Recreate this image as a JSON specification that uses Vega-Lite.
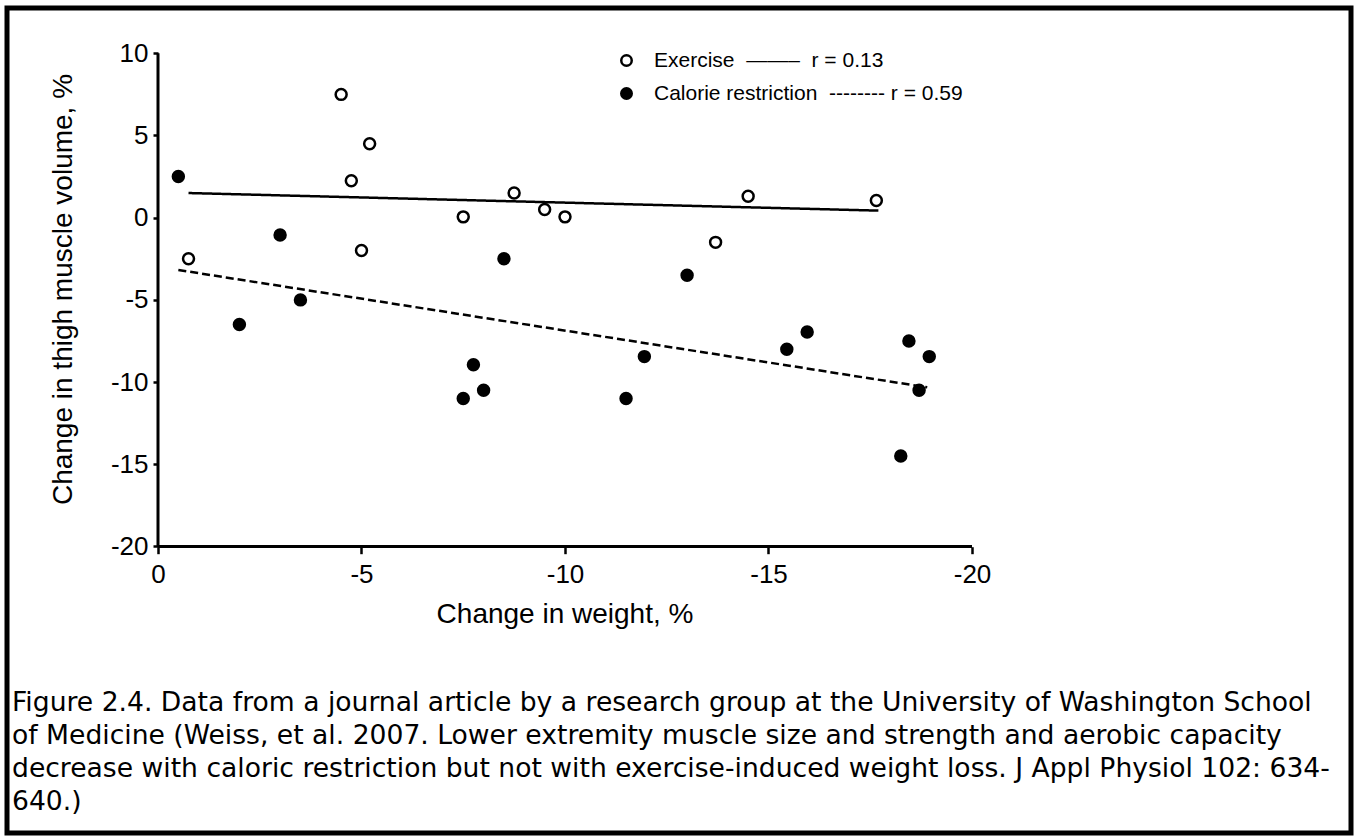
{
  "$schema": "https://vega.github.io/schema/vega-lite/v6.json",
  "width": 1344,
  "height": 825,
  "autosize": {"type": "none"},
  "padding": {"left": 7, "top": 8, "right": 3, "bottom": 3},
  "background": "white",
  "config": {
    "view": {"stroke": "black", "strokeWidth": 5},
    "axis": {"grid": false, "domain": false, "labelColor": "black", "tickColor": "black", "titleColor": "black", "labelFont": "Liberation Sans", "titleFont": "Liberation Sans", "titleFontWeight": "normal"}
  },
  "title": {
    "text": [
      "Figure 2.4. Data from a journal article by a research group at the University of Washington School",
      "of Medicine (Weiss, et al. 2007. Lower extremity muscle size and strength and aerobic capacity",
      "decrease with caloric restriction but not with exercise-induced weight loss. J Appl Physiol 102: 634-",
      "640.)"
    ],
    "orient": "bottom",
    "anchor": "start",
    "frame": "group",
    "offset": -122,
    "dx": 5,
    "baseline": "alphabetic",
    "font": "DejaVu Sans",
    "fontSize": 26.6,
    "fontWeight": "normal",
    "lineHeight": 33,
    "color": "black"
  },
  "layer": [
    {
      "data": {"values": [
        {"group": "Exercise", "weight": -4.5, "muscle": 7.5},
        {"group": "Exercise", "weight": -5.2, "muscle": 4.5},
        {"group": "Exercise", "weight": -4.75, "muscle": 2.25},
        {"group": "Exercise", "weight": -8.75, "muscle": 1.5},
        {"group": "Exercise", "weight": -7.5, "muscle": 0.05},
        {"group": "Exercise", "weight": -9.5, "muscle": 0.5},
        {"group": "Exercise", "weight": -10.0, "muscle": 0.05},
        {"group": "Exercise", "weight": -5.0, "muscle": -2.0},
        {"group": "Exercise", "weight": -0.75, "muscle": -2.5},
        {"group": "Exercise", "weight": -14.5, "muscle": 1.3},
        {"group": "Exercise", "weight": -17.65, "muscle": 1.05},
        {"group": "Exercise", "weight": -13.7, "muscle": -1.5},
        {"group": "Calorie restriction", "weight": -0.5, "muscle": 2.5},
        {"group": "Calorie restriction", "weight": -3.0, "muscle": -1.05},
        {"group": "Calorie restriction", "weight": -8.5, "muscle": -2.5},
        {"group": "Calorie restriction", "weight": -13.0, "muscle": -3.5},
        {"group": "Calorie restriction", "weight": -3.5, "muscle": -5.0},
        {"group": "Calorie restriction", "weight": -2.0, "muscle": -6.5},
        {"group": "Calorie restriction", "weight": -7.75, "muscle": -8.95},
        {"group": "Calorie restriction", "weight": -8.0, "muscle": -10.5},
        {"group": "Calorie restriction", "weight": -7.5, "muscle": -11.0},
        {"group": "Calorie restriction", "weight": -11.95, "muscle": -8.45},
        {"group": "Calorie restriction", "weight": -11.5, "muscle": -11.0},
        {"group": "Calorie restriction", "weight": -15.95, "muscle": -6.95},
        {"group": "Calorie restriction", "weight": -15.45, "muscle": -8.0},
        {"group": "Calorie restriction", "weight": -18.45, "muscle": -7.5},
        {"group": "Calorie restriction", "weight": -18.95, "muscle": -8.45},
        {"group": "Calorie restriction", "weight": -18.7, "muscle": -10.5},
        {"group": "Calorie restriction", "weight": -18.25, "muscle": -14.5}
      ]},
      "mark": {"type": "point", "shape": "circle", "filled": true, "stroke": "black", "strokeWidth": 2.5, "size": 120, "opacity": 1},
      "encoding": {
        "x": {
          "field": "weight",
          "type": "quantitative",
          "scale": {"domain": [3.71, -29.312], "nice": false, "zero": false},
          "axis": {
            "orient": "bottom",
            "offset": -286.3,
            "values": [0, -5, -10, -15, -20],
            "labelExpr": "'' + datum.value",
            "tickSize": 7,
            "tickWidth": 2.5,
            "labelFontSize": 26,
            "labelPadding": 8,
            "title": "Change in weight, %",
            "titleFontSize": 28,
            "titleX": 557.5,
            "titleY": 75.3,
            "titleBaseline": "alphabetic",
            "titleAlign": "center"
          }
        },
        "y": {
          "field": "muscle",
          "type": "quantitative",
          "scale": {"domain": [-37.427, 12.755], "nice": false, "zero": false},
          "axis": {
            "orient": "left",
            "offset": -151,
            "values": [-20, -15, -10, -5, 0, 5, 10],
            "labelExpr": "'' + datum.value",
            "tickSize": 5,
            "tickWidth": 2.5,
            "labelFontSize": 26,
            "labelPadding": 5,
            "title": "Change in thigh muscle volume, %",
            "titleFontSize": 28,
            "titleAngle": -90,
            "titleX": -86.5,
            "titleY": 281,
            "titleBaseline": "alphabetic",
            "titleAlign": "center"
          }
        },
        "fill": {
          "field": "group",
          "type": "nominal",
          "scale": {"domain": ["Exercise", "Calorie restriction"], "range": ["white", "black"]},
          "legend": {
            "orient": "none",
            "legendX": 609,
            "legendY": 42,
            "title": null,
            "padding": 0,
            "symbolType": "circle",
            "symbolSize": 110,
            "symbolStrokeColor": "black",
            "symbolStrokeWidth": 2.5,
            "labelFont": "Liberation Sans",
            "labelFontSize": 21,
            "labelColor": "black",
            "labelOffset": 17,
            "rowPadding": 11,
            "labelLimit": 600,
            "labelExpr": "datum.label == 'Exercise' ? 'Exercise\u00a0\u00a0\u2014\u2014\u2013\u00a0\u00a0r = 0.13' : 'Calorie restriction\u00a0\u00a0--------\u00a0r = 0.59'"
          }
        }
      }
    },
    {
      "data": {"values": [{}]},
      "mark": {"type": "rule", "color": "black", "strokeWidth": 3},
      "encoding": {
        "x": {"datum": 0},
        "x2": {"datum": -20},
        "y": {"datum": -20}
      }
    },
    {
      "data": {"values": [{}]},
      "mark": {"type": "rule", "color": "black", "strokeWidth": 3},
      "encoding": {
        "x": {"datum": 0},
        "y": {"datum": -20},
        "y2": {"datum": 10}
      }
    },
    {
      "data": {"values": [
        {"fit": "Exercise fit", "weight": -0.75, "muscle": 1.5},
        {"fit": "Exercise fit", "weight": -17.7, "muscle": 0.43},
        {"fit": "Calorie restriction fit", "weight": -0.5, "muscle": -3.18},
        {"fit": "Calorie restriction fit", "weight": -18.9, "muscle": -10.32}
      ]},
      "mark": {"type": "line", "color": "black", "strokeWidth": 2.5},
      "encoding": {
        "x": {"field": "weight", "type": "quantitative"},
        "y": {"field": "muscle", "type": "quantitative"},
        "detail": {"field": "fit"},
        "strokeDash": {
          "field": "fit",
          "type": "nominal",
          "scale": {"domain": ["Exercise fit", "Calorie restriction fit"], "range": [[1, 0], [8, 4]]},
          "legend": null
        }
      }
    }
  ]
}
